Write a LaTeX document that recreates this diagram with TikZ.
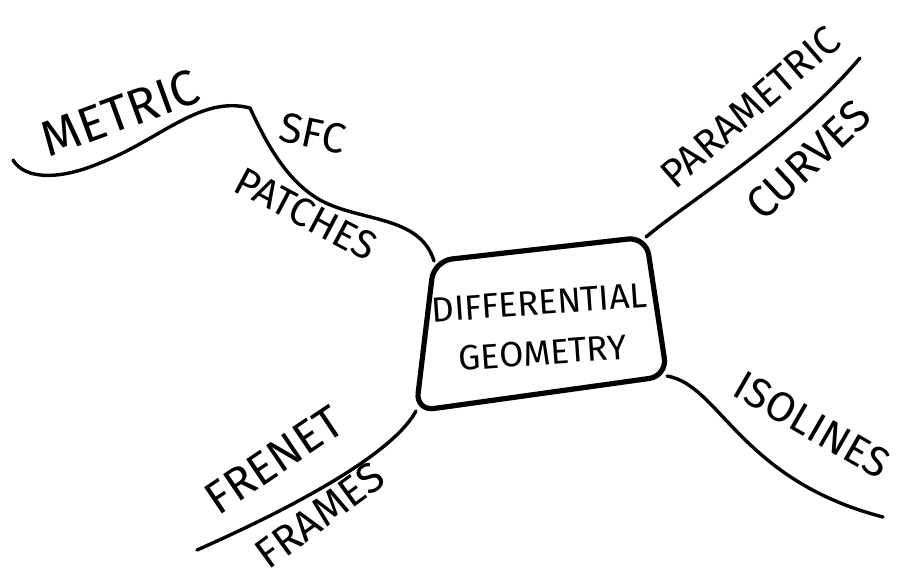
\documentclass[tikz,border=0pt]{standalone}
\usepackage{fontspec}
\setmainfont{Fira Sans}

\begin{document}
\begin{tikzpicture}[
    x=0.5pt, y=-0.5pt,
    hubbox/.style={
        draw=black, line width=2.6pt, line join=round, rounded corners=9pt
    },
    branch/.style={
        draw=black, line width=1.7pt, line cap=round, line join=round
    },
    word/.style={
        font=\fontsize{#1}{#1}\selectfont, inner sep=0pt
    },
    hubtext/.style={
        font=\fontsize{17.5}{25}\selectfont, align=center, inner sep=0pt
    }
]

\useasboundingbox (0,0) rectangle (904,579);

% Hub
\coordinate (hubnw) at (434,261);
\coordinate (hubne) at (646,237);
\coordinate (hubse) at (667,376);
\coordinate (hubsw) at (416,411);
\draw[hubbox] (hubnw) -- (hubne) -- (hubse) -- (hubsw) -- cycle;
\node[hubtext, rotate=4] (hub) at (541,328) {DIFFERENTIAL\\GEOMETRY};

% Branch ends
\coordinate (sfcknot) at (250,108);
\coordinate (metricend) at (13,160);
\coordinate (paramend) at (860,58);
\coordinate (isoend) at (883,517);
\coordinate (frenetend) at (197,550);

% Branches
\draw[branch] (hubnw) .. controls (420,215) and (360,222) .. (320,200)
    .. controls (285,180) and (265,140) .. (sfcknot);
\draw[branch] (sfcknot) .. controls (200,95) and (160,140) .. (100,163)
    .. controls (60,180) and (25,180) .. (metricend);
\draw[branch] (hubne) .. controls (690,200) and (790,140) .. (paramend);
\draw[branch] (hubse) .. controls (720,385) and (740,480) .. (isoend);
\draw[branch] (hubsw) .. controls (395,450) and (310,500) .. (frenetend);

% Words
\node[word=25, rotate=20] (metric) at (120,113) {METRIC};
\node[word=21, rotate=-12] (sfc) at (313,133) {SFC};
\node[word=20, rotate=-28] (patches) at (306,214) {PATCHES};
\node[word=20, rotate=41] (parametric) at (750,107) {PARAMETRIC};
\node[word=22, rotate=43] (curves) at (808,160) {CURVES};
\node[word=21, rotate=-30] (isolines) at (812,425) {ISOLINES};
\node[word=23, rotate=34] (frenet) at (274,460) {FRENET};
\node[word=21, rotate=36] (frames) at (320,515) {FRAMES};

\end{tikzpicture}
\end{document}
